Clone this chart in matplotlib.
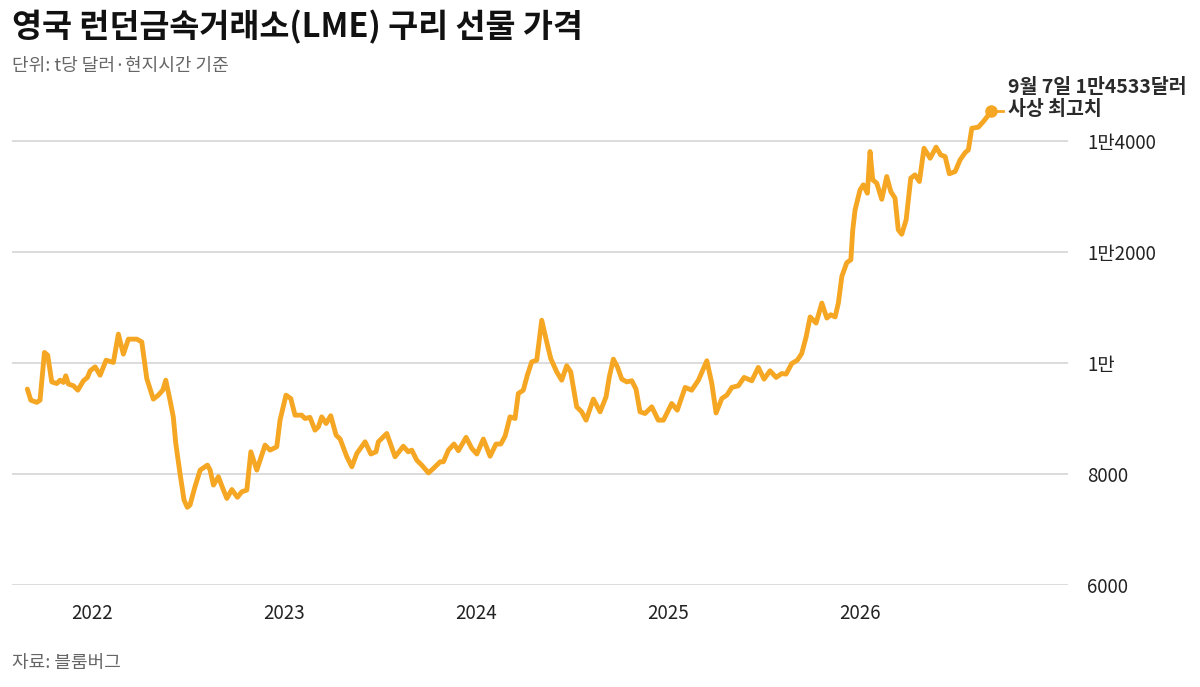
import matplotlib.pyplot as plt
from matplotlib.lines import Line2D

plt.rcParams['font.family'] = ['Noto Sans CJK KR', 'DejaVu Sans']

# decimal year / price (USD per t)
t = [2021.663, 2021.681, 2021.712, 2021.729, 2021.752, 2021.769, 2021.790, 2021.816,
     2021.833, 2021.851, 2021.863, 2021.877, 2021.903, 2021.926, 2021.955, 2021.976,
     2021.990, 2022.016, 2022.042, 2022.073, 2022.111, 2022.137, 2022.163, 2022.189,
     2022.233, 2022.259, 2022.285, 2022.319, 2022.345, 2022.368, 2022.384, 2022.406,
     2022.423, 2022.436, 2022.458, 2022.479, 2022.496, 2022.510, 2022.536, 2022.563,
     2022.601, 2022.615, 2022.632, 2022.658, 2022.681, 2022.702, 2022.728, 2022.757,
     2022.780, 2022.806, 2022.827, 2022.858, 2022.901, 2022.927, 2022.962, 2022.979,
     2023.010, 2023.035, 2023.057, 2023.092, 2023.109, 2023.135, 2023.161, 2023.179,
     2023.196, 2023.219, 2023.243, 2023.271, 2023.292, 2023.327, 2023.353, 2023.379,
     2023.422, 2023.452, 2023.479, 2023.491, 2023.535, 2023.578, 2023.621, 2023.647,
     2023.665, 2023.691, 2023.717, 2023.752, 2023.778, 2023.813, 2023.830, 2023.856,
     2023.885, 2023.908, 2023.948, 2023.978, 2024.004, 2024.038, 2024.073, 2024.104,
     2024.129, 2024.151, 2024.177, 2024.203, 2024.220, 2024.246, 2024.267, 2024.290,
     2024.316, 2024.342, 2024.368, 2024.389, 2024.420, 2024.446, 2024.472, 2024.493,
     2024.524, 2024.550, 2024.573, 2024.611, 2024.646, 2024.677, 2024.694, 2024.715,
     2024.736, 2024.759, 2024.785, 2024.811, 2024.833, 2024.854, 2024.880, 2024.915,
     2024.949, 2024.976, 2025.019, 2025.048, 2025.089, 2025.123, 2025.158, 2025.202,
     2025.228, 2025.250, 2025.280, 2025.306, 2025.332, 2025.366, 2025.396, 2025.436,
     2025.470, 2025.500, 2025.531, 2025.563, 2025.592, 2025.615, 2025.644, 2025.673,
     2025.696, 2025.719, 2025.740, 2025.771, 2025.801, 2025.827, 2025.847, 2025.870,
     2025.887, 2025.905, 2025.931, 2025.952, 2025.962, 2025.974, 2026.000, 2026.017,
     2026.038, 2026.052, 2026.066, 2026.087, 2026.113, 2026.139, 2026.160, 2026.182,
     2026.199, 2026.217, 2026.240, 2026.264, 2026.286, 2026.309, 2026.333, 2026.365,
     2026.396, 2026.420, 2026.443, 2026.465, 2026.495, 2026.521, 2026.547, 2026.564,
     2026.582, 2026.616, 2026.642, 2026.683]
price = [9530, 9330, 9290, 9330, 10190, 10140, 9660, 9630,
         9690, 9650, 9770, 9620, 9590, 9510, 9680, 9740,
         9860, 9930, 9780, 10050, 10010, 10520, 10160, 10430,
         10430, 10380, 9720, 9350, 9420, 9510, 9690, 9330,
         9030, 8550, 8010, 7530, 7400, 7440, 7770, 8070,
         8160, 8070, 7800, 7950, 7740, 7560, 7720, 7580,
         7680, 7710, 8400, 8070, 8520, 8430, 8490, 8970,
         9420, 9360, 9060, 9060, 9000, 9020, 8790, 8850,
         9030, 8910, 9050, 8700, 8630, 8310, 8130, 8370,
         8580, 8360, 8400, 8580, 8730, 8310, 8500, 8400,
         8430, 8250, 8160, 8020, 8100, 8220, 8220, 8430,
         8540, 8420, 8660, 8460, 8360, 8630, 8320, 8540,
         8540, 8680, 9030, 9000, 9450, 9510, 9780, 10020,
         10050, 10770, 10380, 10080, 9840, 9690, 9950, 9840,
         9210, 9120, 8970, 9350, 9120, 9390, 9750, 10070,
         9930, 9710, 9660, 9680, 9530, 9120, 9090, 9210,
         8970, 8970, 9270, 9150, 9560, 9510, 9690, 10040,
         9630, 9100, 9360, 9420, 9560, 9590, 9740, 9680,
         9920, 9710, 9860, 9740, 9810, 9800, 9990, 10050,
         10170, 10470, 10830, 10720, 11080, 10810, 10870, 10830,
         11080, 11560, 11810, 11860, 12400, 12760, 13120, 13210,
         13060, 13810, 13300, 13240, 12950, 13360, 13090, 12970,
         12400, 12320, 12580, 13330, 13390, 13270, 13870, 13690,
         13890, 13750, 13720, 13410, 13450, 13660, 13790, 13840,
         14230, 14250, 14350, 14533]

years = [2022, 2023, 2024, 2025, 2026]
y_ticks = [6000, 8000, 10000, 12000, 14000]
y_labels = ['6000', '8000', '1만', '1만2000', '1만4000']

orange = '#F5A623'
dark = '#222222'
gray = '#666666'

fig = plt.figure(figsize=(12, 6.87), dpi=100)
ax = fig.add_axes([0.01, 0.1485, 0.88, 0.727])

ax.plot(t, price, color=orange, lw=3.5, solid_joinstyle='round',
        solid_capstyle='round', zorder=3)
ax.plot(t[-1], price[-1], 'o', color=orange, ms=8, zorder=4)
ax.add_line(Line2D([t[-1], t[-1] + 0.06], [price[-1], price[-1]],
                   color=orange, lw=2, zorder=3))
ax.annotate('9월 7일 1만4533달러\n사상 최고치', xy=(t[-1], price[-1]),
            xytext=(12, 9), textcoords='offset points', ha='left', va='center',
            fontsize=14, fontweight='bold', color='#2a2a2a', linespacing=1.2,
            annotation_clip=False)

ax.set_xlim(2021.583, 2027.083)
ax.set_ylim(6000, 15000)
ax.set_xticks(years)
ax.set_xticklabels([str(y) for y in years])
ax.set_yticks(y_ticks)
ax.set_yticklabels(y_labels)
ax.yaxis.tick_right()
ax.grid(axis='y', color='#d9d9d9', lw=1.3)
ax.set_axisbelow(True)
for s in ax.spines.values():
    s.set_visible(False)
ax.tick_params(axis='both', length=0, labelsize=13.5, colors=dark)
ax.tick_params(axis='y', pad=14)
ax.tick_params(axis='x', pad=13)

fig.text(0.01, 0.961, '영국 런던금속거래소(LME) 구리 선물 가격', fontsize=23.5,
         fontweight='bold', color='#111111', va='center')
fig.text(0.01, 0.904, '단위: t당 달러·현지시간 기준', fontsize=13, color=gray,
         va='center')
fig.text(0.01, 0.035, '자료: 블룸버그', fontsize=13, color=gray, va='center')

fig.savefig('out.png', dpi=100)
